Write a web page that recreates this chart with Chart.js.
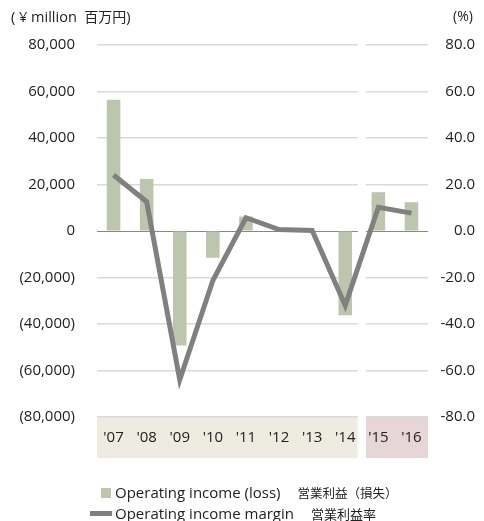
<!DOCTYPE html>
<html>
<head>
<meta charset="utf-8">
<script src="https://cdn.jsdelivr.net/npm/chart.js@4/dist/chart.umd.min.js"></script>
<style>
  html, body { margin: 0; padding: 0; background: #fff; }
  #wrap { position: relative; width: 484px; height: 521px; overflow: hidden; font-family: "Open Sans", "Noto Sans CJK JP", sans-serif; color: #222; }
  canvas { position: absolute; left: 0; top: 0; }
  .lbl { position: absolute; white-space: nowrap; line-height: 1; }
  .jp { font-family: "Noto Sans CJK JP", sans-serif; font-size: 12.5px; }
</style>
</head>
<body>
<div id="wrap">
  <canvas id="c" width="484" height="521"></canvas>
  <div class="lbl" style="left:11px; top:9px; font-size:14.5px;">(&nbsp;¥ million&nbsp;&nbsp;<span class="jp" style="font-size:14px">百万円</span>)</div>
  <div class="lbl" style="left:453px; top:9px; font-size:14px;">(%)</div>
  <div class="lbl" style="left:101px; top:488px; width:10px; height:10px; background:#bbc6ac;"></div>
  <div class="lbl" style="left:115px; top:485px; font-size:15px;">Operating income (loss)<span class="jp" style="margin-left:17px">営業利益（損失）</span></div>
  <div class="lbl" style="left:90px; top:511px; width:22px; height:5px; background:#7f7f7f;"></div>
  <div class="lbl" style="left:115px; top:506px; font-size:15px;">Operating income margin<span class="jp" style="margin-left:17px; font-size:13px">営業利益率</span></div>
</div>
<script>
const categories = ["'07", "'08", "'09", "'10", "'11", "'12", "'13", "'14", "'15", "'16"];
const operatingIncome = [56500, 22400, -49200, -11500, 6200, 300, 200, -36200, 16700, 12400];
const operatingMargin = [24.1, 12.6, -64.0, -21.3, 5.7, 0.6, 0.2, -32.0, 10.2, 7.7];
const leftTicks = [80000, 60000, 40000, 20000, 0, -20000, -40000, -60000, -80000];
const rightTicks = [80, 60, 40, 20, 0, -20, -40, -60, -80];

const bandPlugin = {
  id: 'bands',
  beforeDraw(chart) {
    const ctx = chart.ctx, x = chart.scales.x, ca = chart.chartArea;
    const split = (x.getPixelForValue(7) + x.getPixelForValue(8)) / 2;
    ctx.save();
    ctx.fillStyle = '#eeece1';
    ctx.fillRect(ca.left, ca.bottom - 1, split - 4 - ca.left, 42);
    ctx.fillStyle = '#e6d6d7';
    ctx.fillRect(split + 4, ca.bottom - 1, ca.right - split - 4, 42);
    ctx.restore();
  },
  beforeDatasetsDraw(chart) {
    const ctx = chart.ctx, x = chart.scales.x, ca = chart.chartArea;
    const split = (x.getPixelForValue(7) + x.getPixelForValue(8)) / 2;
    ctx.save();
    ctx.fillStyle = '#fff';
    ctx.fillRect(split - 4, ca.top - 3, 8, ca.bottom - ca.top + 45);
    ctx.restore();
  }
};

Chart.defaults.font.family = '"Open Sans", "Noto Sans CJK JP", sans-serif';
Chart.defaults.color = '#222';

new Chart(document.getElementById('c'), {
  data: {
    labels: categories,
    datasets: [
      {
        type: 'line', label: 'Operating income margin', data: operatingMargin, yAxisID: 'y1',
        borderColor: '#808080', borderWidth: 5, pointRadius: 0, tension: 0, order: 0,
        borderJoinStyle: 'miter', borderCapStyle: 'butt'
      },
      {
        type: 'bar', label: 'Operating income (loss)', data: operatingIncome, yAxisID: 'y',
        backgroundColor: '#bbc6ac', barPercentage: 0.41, categoryPercentage: 1, order: 1
      }
    ]
  },
  options: {
    responsive: false, animation: false,
    layout: { padding: { top: 45, right: 9, left: 0, bottom: 0 } },
    plugins: { legend: { display: false }, tooltip: { enabled: false } },
    scales: {
      x: {
        grid: { display: false, drawTicks: false },
        border: { display: false },
        ticks: { padding: 12, font: { size: 15 }, color: '#222', maxRotation: 0, autoSkip: false },
        afterFit(s) { s.height = 104; }
      },
      y: {
        position: 'left', min: -80000, max: 80000,
        afterBuildTicks(s) { s.ticks = leftTicks.map(v => ({ value: v })); },
        ticks: {
          padding: 22, font: { size: 15 }, color: '#222',
          callback(v) { return v < 0 ? '(' + Math.abs(v).toLocaleString('en-US') + ')' : v.toLocaleString('en-US'); }
        },
        grid: {
          drawTicks: false,
          color(c) { return c.tick && c.tick.value === 0 ? '#888888' : '#d9d9d9'; },
          lineWidth(c) { return c.tick && c.tick.value === 0 ? 1 : 1.5; }
        },
        border: { display: false },
        afterFit(s) { s.width = 97; }
      },
      y1: {
        position: 'right', min: -80, max: 80,
        afterBuildTicks(s) { s.ticks = rightTicks.map(v => ({ value: v })); },
        ticks: {
          padding: 10, font: { size: 15 }, color: '#222', crossAlign: 'far',
          callback(v) { return v.toFixed(1); }
        },
        grid: { display: false, drawTicks: false },
        border: { display: false },
        afterFit(s) { s.width = 47; }
      }
    }
  },
  plugins: [bandPlugin]
});
</script>
</body>
</html>
